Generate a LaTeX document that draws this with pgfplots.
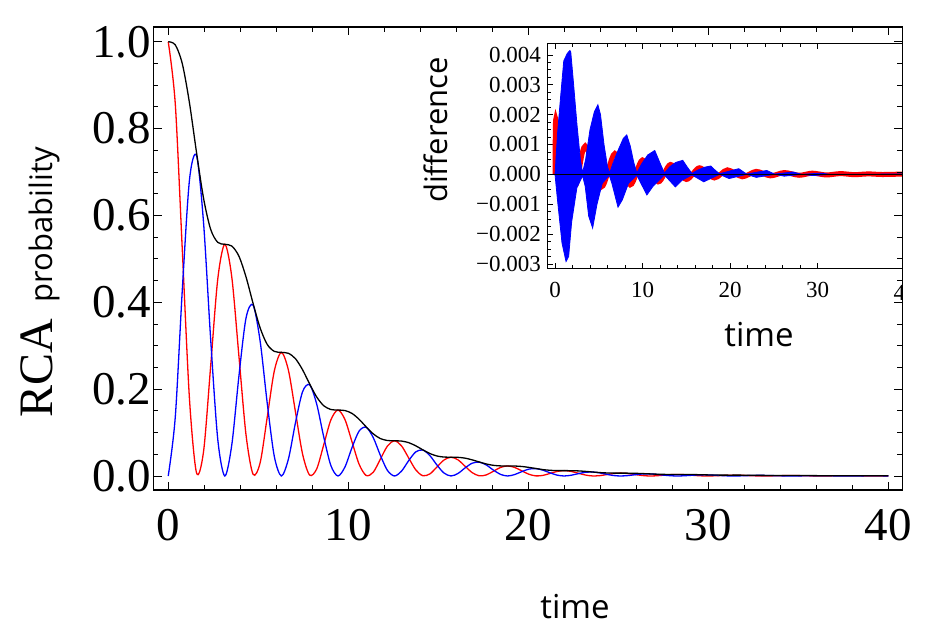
\documentclass[border=0pt]{standalone}
\usepackage{fontspec}
\setmainfont{Liberation Serif}
\newfontfamily\labelsans{Open Sans}
\usepackage{pgfplots}
\pgfplotsset{compat=1.18}
\usepackage{pgfplotstable}

\pgfplotstableread{
t r b n
0.0000 1.0000 0.0000 1.0000
0.3927 0.8558 0.1367 0.9926
0.7854 0.5171 0.4316 0.9486
1.1781 0.1783 0.6811 0.8594
1.5708 0.0073 0.7377 0.7450
1.9635 0.0569 0.5821 0.6390
2.3562 0.2528 0.3152 0.5680
2.7489 0.4526 0.0854 0.5380
3.1416 0.5335 0.0000 0.5335
3.5343 0.4566 0.0730 0.5295
3.9270 0.2758 0.2302 0.5061
4.3197 0.0951 0.3634 0.4585
4.7124 0.0039 0.3936 0.3975
5.1051 0.0304 0.3105 0.3409
5.4978 0.1349 0.1682 0.3030
5.8905 0.2415 0.0455 0.2870
6.2832 0.2846 0.0000 0.2846
6.6759 0.2436 0.0389 0.2825
7.0686 0.1472 0.1228 0.2700
7.4613 0.0507 0.1939 0.2446
7.8540 0.0021 0.2100 0.2120
8.2467 0.0162 0.1657 0.1819
8.6394 0.0720 0.0897 0.1617
9.0321 0.1288 0.0243 0.1531
9.4248 0.1518 0.0000 0.1518
9.8175 0.1299 0.0208 0.1507
10.2102 0.0785 0.0655 0.1440
10.6029 0.0271 0.1034 0.1305
10.9956 0.0011 0.1120 0.1131
11.3883 0.0086 0.0884 0.0970
11.7810 0.0384 0.0479 0.0862
12.1737 0.0687 0.0130 0.0817
12.5664 0.0810 0.0000 0.0810
12.9591 0.0693 0.0111 0.0804
13.3518 0.0419 0.0350 0.0768
13.7445 0.0144 0.0552 0.0696
14.1372 0.0006 0.0598 0.0603
14.5299 0.0046 0.0472 0.0518
14.9226 0.0205 0.0255 0.0460
15.3153 0.0367 0.0069 0.0436
15.7080 0.0432 0.0000 0.0432
16.1007 0.0370 0.0059 0.0429
16.4934 0.0223 0.0187 0.0410
16.8861 0.0077 0.0294 0.0371
17.2788 0.0003 0.0319 0.0322
17.6715 0.0025 0.0252 0.0276
18.0642 0.0109 0.0136 0.0245
18.4569 0.0196 0.0037 0.0232
18.8496 0.0231 0.0000 0.0231
19.2423 0.0197 0.0032 0.0229
19.6350 0.0119 0.0099 0.0219
20.0277 0.0041 0.0157 0.0198
20.4204 0.0002 0.0170 0.0172
20.8131 0.0013 0.0134 0.0147
21.2058 0.0058 0.0073 0.0131
21.5984 0.0104 0.0020 0.0124
21.9911 0.0123 0.0000 0.0123
22.3838 0.0105 0.0017 0.0122
22.7765 0.0064 0.0053 0.0117
23.1692 0.0022 0.0084 0.0106
23.5619 0.0001 0.0091 0.0092
23.9546 0.0007 0.0072 0.0079
24.3473 0.0031 0.0039 0.0070
24.7400 0.0056 0.0010 0.0066
25.1327 0.0066 0.0000 0.0066
25.5254 0.0056 0.0009 0.0065
25.9181 0.0034 0.0028 0.0062
26.3108 0.0012 0.0045 0.0056
26.7035 0.0000 0.0048 0.0049
27.0962 0.0004 0.0038 0.0042
27.4889 0.0017 0.0021 0.0037
27.8816 0.0030 0.0006 0.0035
28.2743 0.0035 0.0000 0.0035
28.6670 0.0030 0.0005 0.0035
29.0597 0.0018 0.0015 0.0033
29.4524 0.0006 0.0024 0.0030
29.8451 0.0000 0.0026 0.0026
30.2378 0.0002 0.0020 0.0022
30.6305 0.0009 0.0011 0.0020
31.0232 0.0016 0.0003 0.0019
31.4159 0.0019 0.0000 0.0019
31.8086 0.0016 0.0003 0.0019
32.2013 0.0010 0.0008 0.0018
32.5940 0.0003 0.0013 0.0016
32.9867 0.0000 0.0014 0.0014
33.3794 0.0001 0.0011 0.0012
33.7721 0.0005 0.0006 0.0011
34.1648 0.0008 0.0002 0.0010
34.5575 0.0010 0.0000 0.0010
34.9502 0.0009 0.0001 0.0010
35.3429 0.0005 0.0004 0.0009
35.7356 0.0002 0.0007 0.0009
36.1283 0.0000 0.0007 0.0007
36.5210 0.0001 0.0006 0.0006
36.9137 0.0003 0.0003 0.0006
37.3064 0.0005 0.0001 0.0005
37.6991 0.0005 0.0000 0.0005
38.0918 0.0005 0.0001 0.0005
38.4845 0.0003 0.0002 0.0005
38.8772 0.0001 0.0004 0.0005
39.2699 0.0000 0.0004 0.0004
39.6626 0.0000 0.0003 0.0003
40.0000 0.0001 0.0002 0.0003
}\maindata

\pgfplotstableread{
t d
0.00 0.0
0.06 0.00176
0.25 0.00160
0.80 0.00100
1.50 0.00020
2.40 -0.00035
3.45 0.00095
5.30 -0.00042
6.85 0.00070
8.60 -0.00035
10.00 0.00048
11.80 -0.00025
13.20 0.00033
15.00 -0.00017
16.50 0.00022
18.20 -0.00012
19.70 0.00015
21.40 -0.00008
23.00 0.00010
24.60 -0.00005
26.20 0.00006
27.90 -0.00003
29.40 0.00004
31.00 -0.00002
32.60 0.000025
34.20 -0.00001
35.80 0.000015
37.40 -0.000005
39.70 0.00001
}\reddiff

\pgfplotstableread{
t d
0.00 0.0
0.30 0.0014
0.67 0.0027
1.00 0.0038
1.40 0.00405
1.70 0.00415
1.80 0.0041
2.10 0.0031
2.50 0.0017
2.90 0.0005
3.15 0.00005
3.50 0.0005
4.00 0.0015
4.50 0.0021
4.90 0.00233
5.20 0.0020
5.60 0.0010
6.00 0.00025
6.25 0.00005
6.60 0.00035
7.20 0.0008
7.80 0.0012
8.20 0.00132
8.60 0.00095
9.00 0.0004
9.35 0.00005
9.90 0.00035
10.60 0.00065
11.40 0.0008
11.90 0.00045
12.50 0.00004
13.10 0.00025
13.80 0.0004
14.60 0.00047
15.10 0.00025
15.65 0.00003
16.30 0.00014
17.10 0.00024
17.80 0.00028
18.30 0.00014
18.80 0.00002
20.20 0.00013
21.00 0.00019
21.90 0.00001
23.40 0.00009
24.20 0.00013
25.10 0.00001
26.60 0.00006
27.20 0.00008
28.20 0.0
29.80 0.00003
30.40 0.00004
31.40 0.0
39.70 0.00001
39.70 -0.000005
31.40 0.0
29.50 -0.00004
28.20 0.0
26.20 -0.00006
25.10 0.0
23.00 -0.0001
21.90 0.0
19.90 -0.00014
18.80 0.0
17.00 -0.00025
15.65 -0.00002
14.50 -0.0002
13.75 -0.00042
12.50 -0.00002
11.20 -0.0004
10.50 -0.00069
9.35 -0.00003
8.40 -0.0003
7.70 -0.00085
7.20 -0.0011
6.50 -0.0003
6.20 -0.00003
5.40 -0.0003
4.80 -0.0010
4.30 -0.0018
3.85 -0.0014
3.45 -0.0004
3.15 -0.00005
2.50 -0.00045
1.90 -0.0016
1.56 -0.00275
1.26 -0.00292
0.80 -0.0023
0.30 -0.0009
0.00 0.0
}\bluediff

\begin{document}
\begin{tikzpicture}
\path[use as bounding box] (0,0) rectangle (947pt,640pt);

% ---------------- inset ----------------
\begin{axis}[
  at={(547.3pt,371pt)}, anchor=south west,
  width=355pt, height=225.7pt, scale only axis,
  xmin=-0.88, xmax=39.69, ymin=-0.00317, ymax=0.00439,
  line width=1pt,
  xtick={0,10,20,30}, xticklabels={0,10,20,30},
  minor x tick num=4,
  ytick={-0.003,-0.002,-0.001,0,0.001,0.002,0.003,0.004},
  yticklabels={−0.003,−0.002,−0.001,0.000,0.001,0.002,0.003,0.004},
  minor y tick num=3,
  scaled y ticks=false,
  xtick pos=both, ytick pos=left,
  tick align=inside,
  major tick length=6pt, minor tick length=4pt,
  every tick/.style={black, line width=0.8pt},
  tick label style={font=\fontsize{23}{23}\selectfont},
  yticklabel style={xshift=-2.6pt},
  xticklabel style={yshift=-9.3pt},
]
\addplot[red, line width=5pt, smooth] table[x=t,y=d]{\reddiff};
\addplot[draw=blue, fill=blue, line width=0.8pt] table[x=t,y=d]{\bluediff} -- cycle;
\addplot[black, line width=1pt] coordinates {(-0.88,0) (39.69,0)};
\end{axis}

\begin{scope}
\clip (0,0) rectangle (902.3pt,640pt);
\node[font=\fontsize{23}{23}\selectfont] at (905pt,347pt) {40};
\end{scope}

% ---------------- main axis ----------------
\begin{axis}[
  at={(153.3pt,150pt)}, anchor=south west,
  width=749pt, height=463pt, scale only axis,
  xmin=-0.83, xmax=40.78, ymin=-0.0323, ymax=1.0339,
  line width=1.1pt,
  xtick={0,10,20,30,40}, xticklabels={0,10,20,30,40},
  minor x tick num=4,
  ytick={0,0.2,0.4,0.6,0.8,1.0}, yticklabels={0.0,0.2,0.4,0.6,0.8,1.0},
  minor y tick num=3,
  tick align=inside,
  major tick length=8.5pt, minor tick length=5pt,
  every tick/.style={black, line width=0.9pt},
  tick label style={font=\fontsize{47}{47}\selectfont},
  xticklabel style={yshift=-15pt},
  yticklabel style={xshift=1.5pt},
]
\addplot[red, line width=1.3pt, smooth] table[x=t,y=r]{\maindata};
\addplot[blue, line width=1.3pt, smooth] table[x=t,y=b]{\maindata};
\addplot[black, line width=1.3pt, smooth] table[x=t,y=n]{\maindata};
\end{axis}

% labels
\node[rotate=90, anchor=base, inner sep=0pt] at (52pt,357.5pt)
  {\fontsize{48}{48}\selectfont RCA\hspace{17pt}{\labelsans\fontsize{31}{31}\selectfont probability}};
\node[anchor=base, inner sep=0pt] at (575pt,22pt) {\labelsans\fontsize{33}{33}\selectfont time};
\node[anchor=base, inner sep=0pt] at (759pt,293pt) {\labelsans\fontsize{33}{33}\selectfont time};
\node[rotate=90, anchor=base, inner sep=0pt] at (447pt,510pt) {\labelsans\fontsize{31}{31}\selectfont difference};
\end{tikzpicture}
\end{document}
